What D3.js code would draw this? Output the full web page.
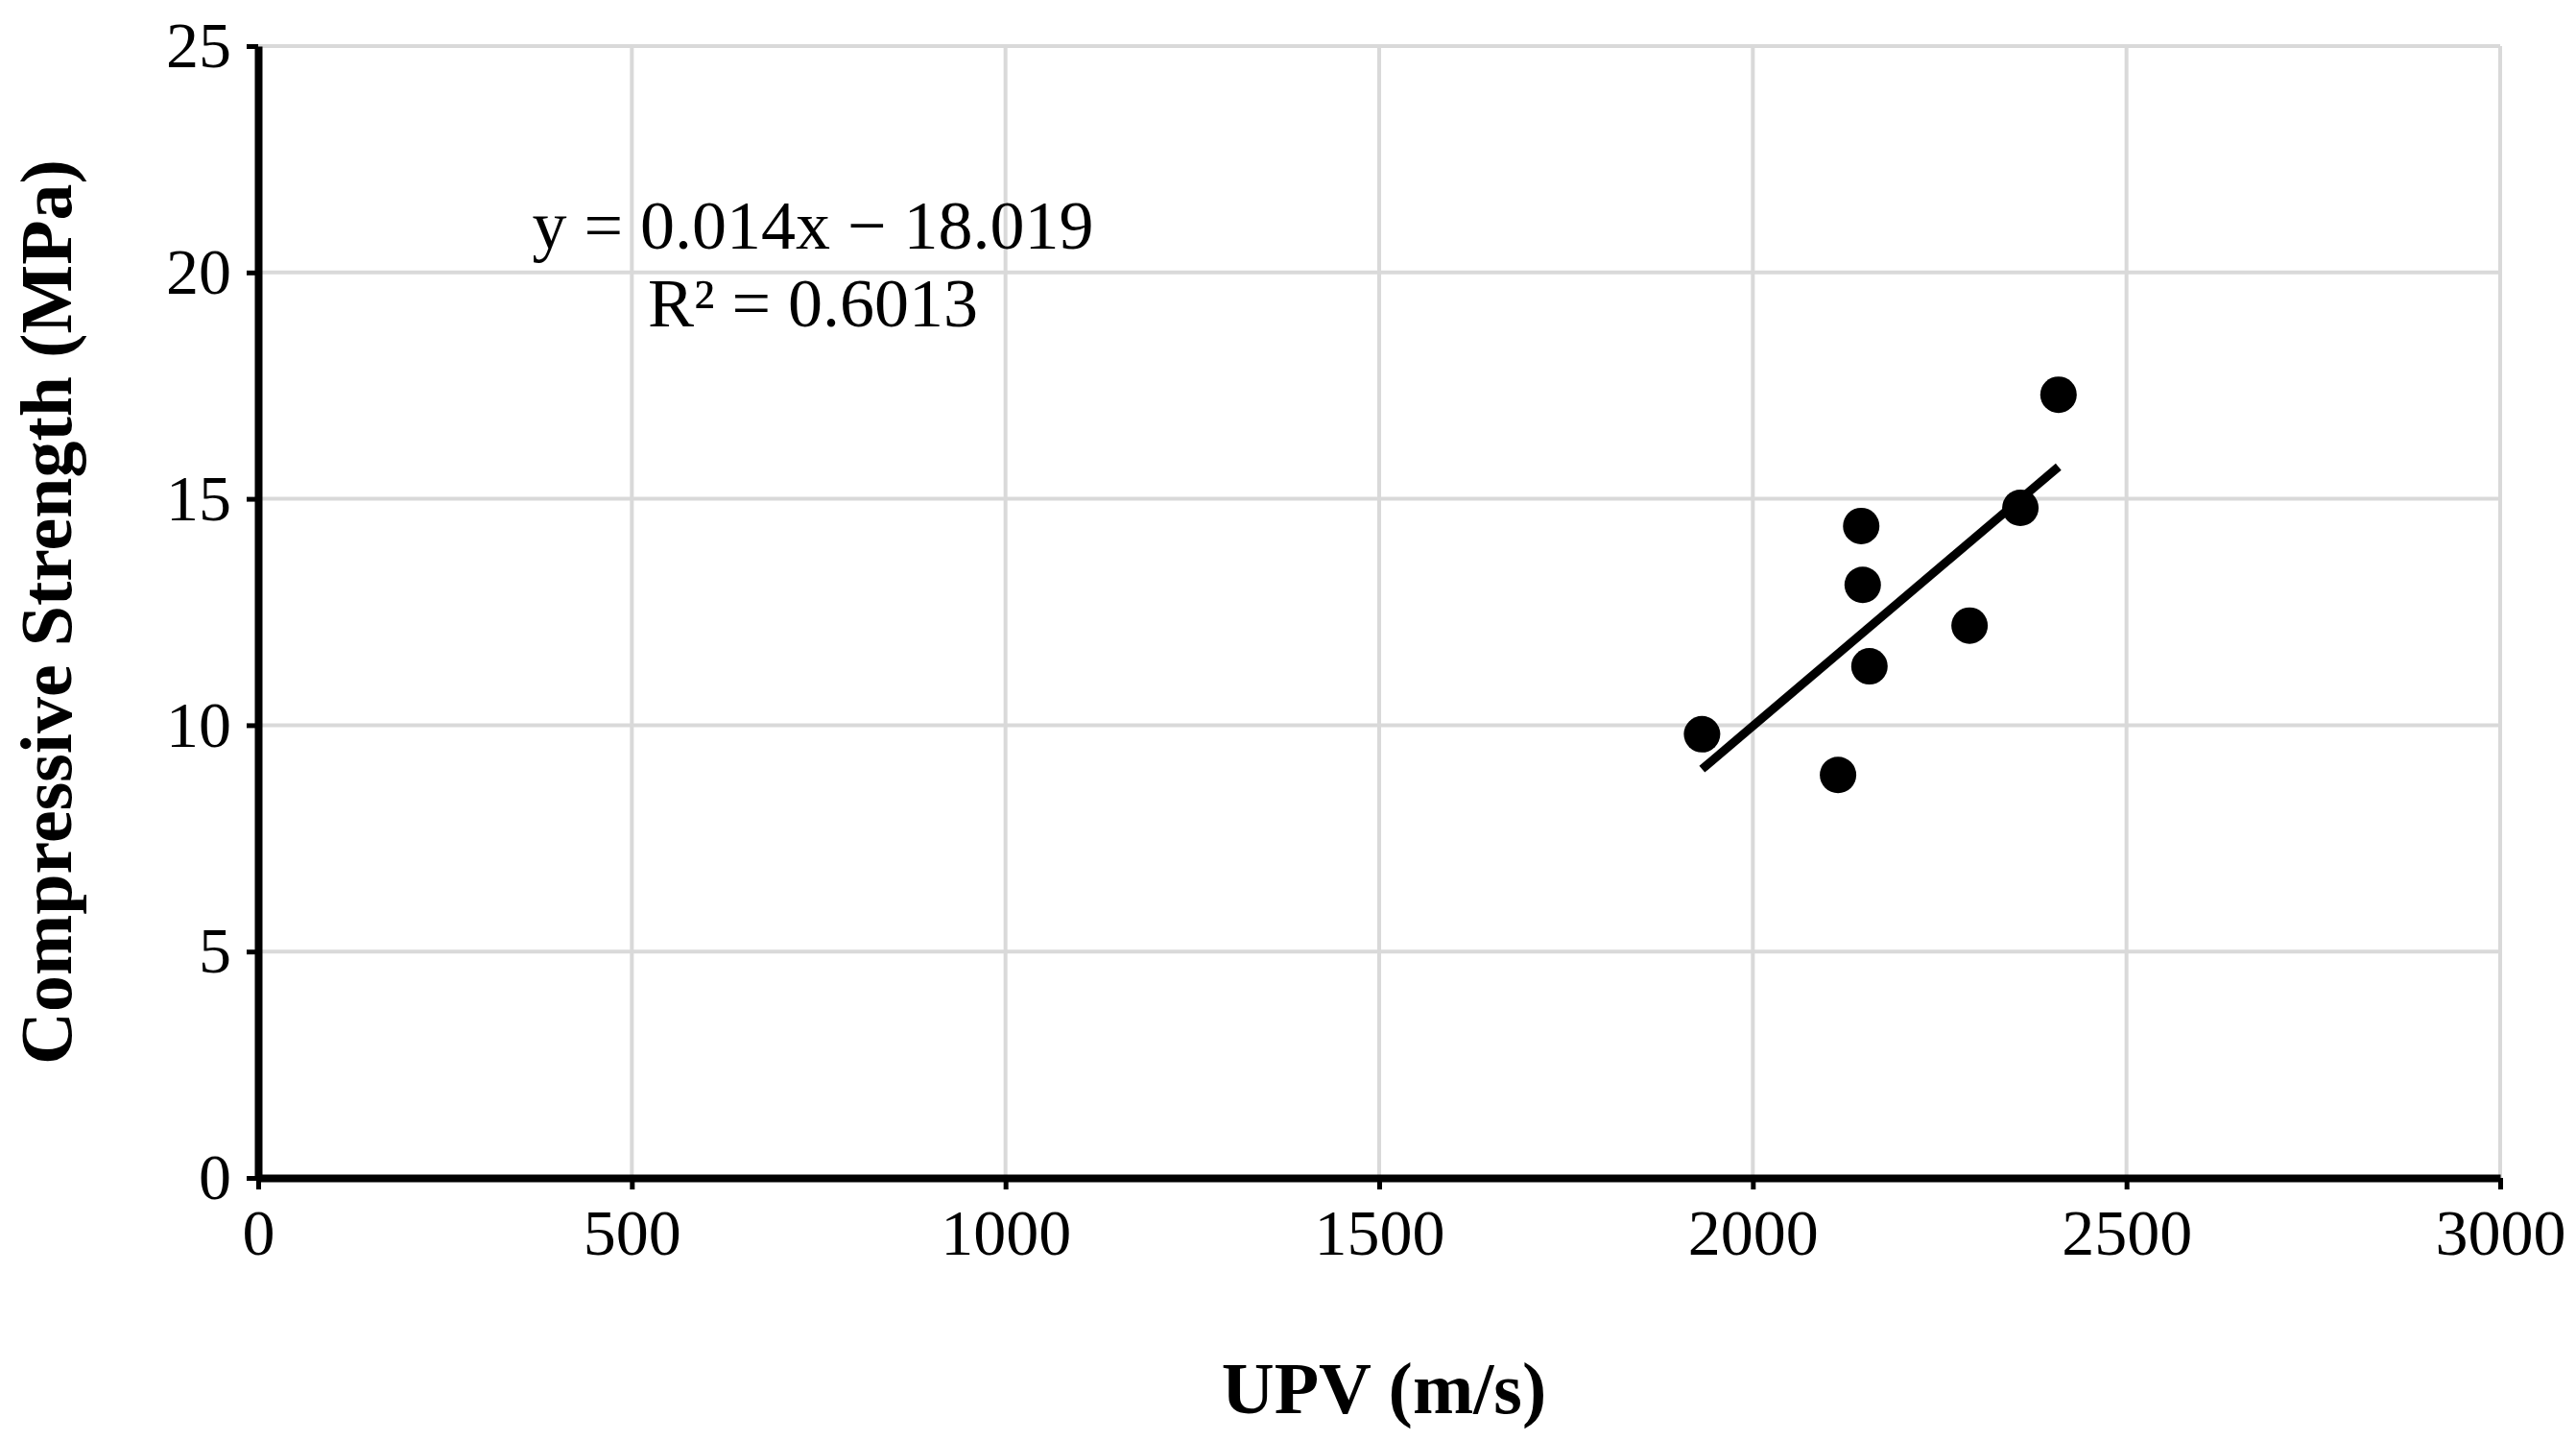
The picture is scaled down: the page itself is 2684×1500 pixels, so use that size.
<!DOCTYPE html><html><head><meta charset="utf-8">
<script src="https://cdn.jsdelivr.net/npm/d3@7"></script>
<style>body{margin:0;background:#fff}</style></head><body>
<svg id="c" width="2684" height="1500"></svg>
<script>
const upv = [1932, 2114, 2145, 2147, 2156, 2290, 2358, 2409];
const strength = [9.8, 8.9, 14.4, 13.1, 11.3, 12.2, 14.8, 17.3];
const xTicks = [0, 500, 1000, 1500, 2000, 2500, 3000];
const yTicks = [0, 5, 10, 15, 20, 25];
const slope = 0.014, intercept = -18.019;
const eqLines = ["y = 0.014x − 18.019", "R² = 0.6013"];

const svg = d3.select("#c");
const L = 269, R = 2605, T = 48, B = 1227;
const x = d3.scaleLinear().domain([0, 3000]).range([L, R]);
const y = d3.scaleLinear().domain([0, 25]).range([B, T]);
const font = "'Liberation Serif', 'Times New Roman', serif";

svg.append("g").selectAll("line").data(xTicks.slice(1)).join("line")
  .attr("x1", d => x(d)).attr("x2", d => x(d)).attr("y1", T).attr("y2", B)
  .attr("stroke", "#d9d9d9").attr("stroke-width", 4);
svg.append("g").selectAll("line").data(yTicks.slice(1)).join("line")
  .attr("x1", L).attr("x2", R).attr("y1", d => y(d)).attr("y2", d => y(d))
  .attr("stroke", "#d9d9d9").attr("stroke-width", 4);

const xa = svg.append("g").attr("transform", `translate(0,${B})`)
  .call(d3.axisBottom(x).tickValues(xTicks).tickFormat(d3.format("d")).tickSize(12).tickPadding(20).tickSizeOuter(0));
const ya = svg.append("g").attr("transform", `translate(${L},0)`)
  .call(d3.axisLeft(y).tickValues(yTicks).tickFormat(d3.format("d")).tickSize(12).tickPadding(16).tickSizeOuter(0));
[xa, ya].forEach(a => {
  a.select(".domain").attr("stroke", "#000").attr("stroke-width", 8);
  a.selectAll(".tick line").attr("stroke", "#000").attr("stroke-width", 5);
  a.selectAll("text").attr("font-family", font).attr("font-size", 68).attr("fill", "#000");
});

svg.append("line")
  .attr("x1", x(d3.min(upv))).attr("y1", y(slope * d3.min(upv) + intercept))
  .attr("x2", x(d3.max(upv))).attr("y2", y(slope * d3.max(upv) + intercept))
  .attr("stroke", "#000").attr("stroke-width", 9);

svg.append("g").selectAll("circle").data(upv).join("circle")
  .attr("cx", d => x(d)).attr("cy", (d, i) => y(strength[i])).attr("r", 19).attr("fill", "#000");

svg.append("text").attr("x", 847).attr("y", 259).attr("text-anchor", "middle")
  .attr("font-family", font).attr("font-size", 72).text(eqLines[0]);
svg.append("text").attr("x", 847).attr("y", 340).attr("text-anchor", "middle")
  .attr("font-family", font).attr("font-size", 72).text(eqLines[1]);

svg.append("text").attr("x", 1442).attr("y", 1472).attr("text-anchor", "middle")
  .attr("font-family", font).attr("font-size", 76).attr("font-weight", "bold").text("UPV (m/s)");
svg.append("text").attr("transform", `translate(74,${(T + B) / 2}) rotate(-90)`).attr("text-anchor", "middle")
  .attr("font-family", font).attr("font-size", 76).attr("font-weight", "bold").text("Compressive Strength (MPa)");
</script></body></html>
